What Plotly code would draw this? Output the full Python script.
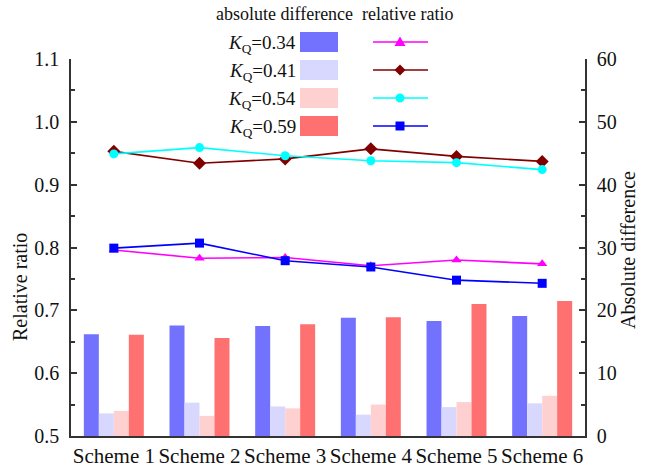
import plotly.graph_objects as go

schemes = ["Scheme 1", "Scheme 2", "Scheme 3", "Scheme 4", "Scheme 5", "Scheme 6"]
kq_labels = ["0.34", "0.41", "0.54", "0.59"]

# absolute difference (bars, right axis)
abs_034 = [16.2, 17.6, 17.5, 18.8, 18.3, 19.1]
abs_041 = [3.6, 5.3, 4.7, 3.4, 4.6, 5.2]
abs_054 = [4.0, 3.2, 4.4, 5.0, 5.4, 6.4]
abs_059 = [16.1, 15.6, 17.8, 18.9, 21.0, 21.5]

# relative ratio (lines, left axis)
rel_034 = [0.796, 0.783, 0.784, 0.771, 0.780, 0.774]
rel_041 = [0.953, 0.934, 0.941, 0.957, 0.945, 0.937]
rel_054 = [0.949, 0.959, 0.946, 0.938, 0.935, 0.924]
rel_059 = [0.799, 0.807, 0.779, 0.769, 0.748, 0.743]

bar_colors = ["#7272FF", "#D8D8FF", "#FFD0D0", "#FF7070"]
line_colors = ["#FF00FF", "#800000", "#00FFFF", "#0000FF"]
line_symbols = ["triangle-up", "diamond", "circle", "square"]

abs_series = [abs_034, abs_041, abs_054, abs_059]
rel_series = [rel_034, rel_041, rel_054, rel_059]

FONT = "Liberation Serif"
W, H = 648, 468
L, R, T, B = 71, 585, 59, 436

fig = go.Figure()

for vals, col, lab in zip(abs_series, bar_colors, kq_labels):
    fig.add_trace(go.Bar(x=schemes, y=vals, marker=dict(color=col, line=dict(width=0)),
                         name=lab, xaxis="x", yaxis="y", showlegend=False))

for vals, col, sym, lab in zip(rel_series, line_colors, line_symbols, kq_labels):
    fig.add_trace(go.Scatter(x=schemes, y=vals, mode="lines+markers",
                             line=dict(color=col, width=1.6),
                             marker=dict(symbol=sym, size=9 if sym != "diamond" else 10, color=col),
                             name=lab, xaxis="x", yaxis="y2", showlegend=False))

# custom legend (pixel helpers)
def px(x):
    return (x - L) / (R - L)

def py(y):
    return (B - y) / (B - T)

def path(points):
    return "M " + " L ".join(f"{px(a):.5f},{py(b):.5f}" for a, b in points) + " Z"

shapes = []
annotations = []
rows = [42, 70, 98, 126]
txt = dict(xref="paper", yref="paper", showarrow=False, yanchor="middle")
annotations.append(dict(text="absolute difference", x=px(284), y=py(14), xanchor="center",
                        font=dict(family=FONT, size=18, color="#111"), **txt))
annotations.append(dict(text="relative ratio", x=px(407), y=py(14), xanchor="center",
                        font=dict(family=FONT, size=18, color="#111"), **txt))
for i, ry in enumerate(rows):
    annotations.append(dict(text="<i>K</i><sub>Q</sub>=" + kq_labels[i], x=px(298), y=py(ry + 2),
                            xanchor="right", font=dict(family=FONT, size=19, color="#111"), **txt))
    shapes.append(dict(type="rect", xref="paper", yref="paper", x0=px(300), x1=px(338),
                       y0=py(ry - 10), y1=py(ry + 10), fillcolor=bar_colors[i], line=dict(width=0)))
    shapes.append(dict(type="line", xref="paper", yref="paper", x0=px(373), x1=px(428),
                       y0=py(ry), y1=py(ry), line=dict(color=line_colors[i], width=1.6)))
    c = line_colors[i]
    mx = 400
    sym = line_symbols[i]
    if sym == "triangle-up":
        shapes.append(dict(type="path", xref="paper", yref="paper",
                           path=path([(mx - 5.5, ry + 4), (mx + 5.5, ry + 4), (mx, ry - 5.5)]),
                           fillcolor=c, line=dict(width=0)))
    elif sym == "diamond":
        shapes.append(dict(type="path", xref="paper", yref="paper",
                           path=path([(mx - 5.5, ry), (mx, ry - 5.5), (mx + 5.5, ry), (mx, ry + 5.5)]),
                           fillcolor=c, line=dict(width=0)))
    elif sym == "circle":
        shapes.append(dict(type="circle", xref="paper", yref="paper", x0=px(mx - 4.5), x1=px(mx + 4.5),
                           y0=py(ry + 4.5), y1=py(ry - 4.5), fillcolor=c, line=dict(width=0)))
    else:
        shapes.append(dict(type="rect", xref="paper", yref="paper", x0=px(mx - 4.5), x1=px(mx + 4.5),
                           y0=py(ry + 4.5), y1=py(ry - 4.5), fillcolor=c, line=dict(width=0)))

# axis titles
annotations.append(dict(text="Relative ratio", x=px(20), y=py(287), xanchor="center", textangle=-90,
                        font=dict(family=FONT, size=20, color="#111"), **txt))
annotations.append(dict(text="Absolute difference", x=px(628), y=py(250), xanchor="center", textangle=-90,
                        font=dict(family=FONT, size=20, color="#111"), **txt))

axis_line = dict(showline=True, linecolor="#333", linewidth=1.5, automargin=False)

fig.update_layout(
    width=W, height=H,
    margin=dict(l=L, r=W - R, t=T, b=H - B, pad=0, autoexpand=False),
    paper_bgcolor="white", plot_bgcolor="white",
    font=dict(family=FONT, size=21, color="#111"),
    barmode="group", bargap=0.3, bargroupgap=0,
    showlegend=False,
    xaxis=dict(type="category", range=[-0.5, 5.5], showgrid=False, ticks="", zeroline=False,
               tickfont=dict(size=21), **axis_line),
    yaxis=dict(side="right", range=[0, 60], dtick=10, showgrid=False, zeroline=False,
               ticks="inside", ticklen=6, tickwidth=1.5, tickcolor="#333",
               minor=dict(ticks="inside", ticklen=4, tickwidth=1.5, tickcolor="#333", dtick=5),
               tickfont=dict(size=20), ticklabelstandoff=6, **axis_line),
    yaxis2=dict(side="left", overlaying="y", range=[0.5, 1.1], dtick=0.1, tickformat=".1f",
                showgrid=False, zeroline=False,
                ticks="inside", ticklen=6, tickwidth=1.5, tickcolor="#333",
                minor=dict(ticks="inside", ticklen=4, tickwidth=1.5, tickcolor="#333", dtick=0.05),
                tickfont=dict(size=20), ticklabelstandoff=6, **axis_line),
    shapes=shapes, annotations=annotations,
)

fig.write_html("out.html", config={"displayModeBar": False},
               post_script="document.body.style.margin='0';document.body.style.overflow='hidden';")
